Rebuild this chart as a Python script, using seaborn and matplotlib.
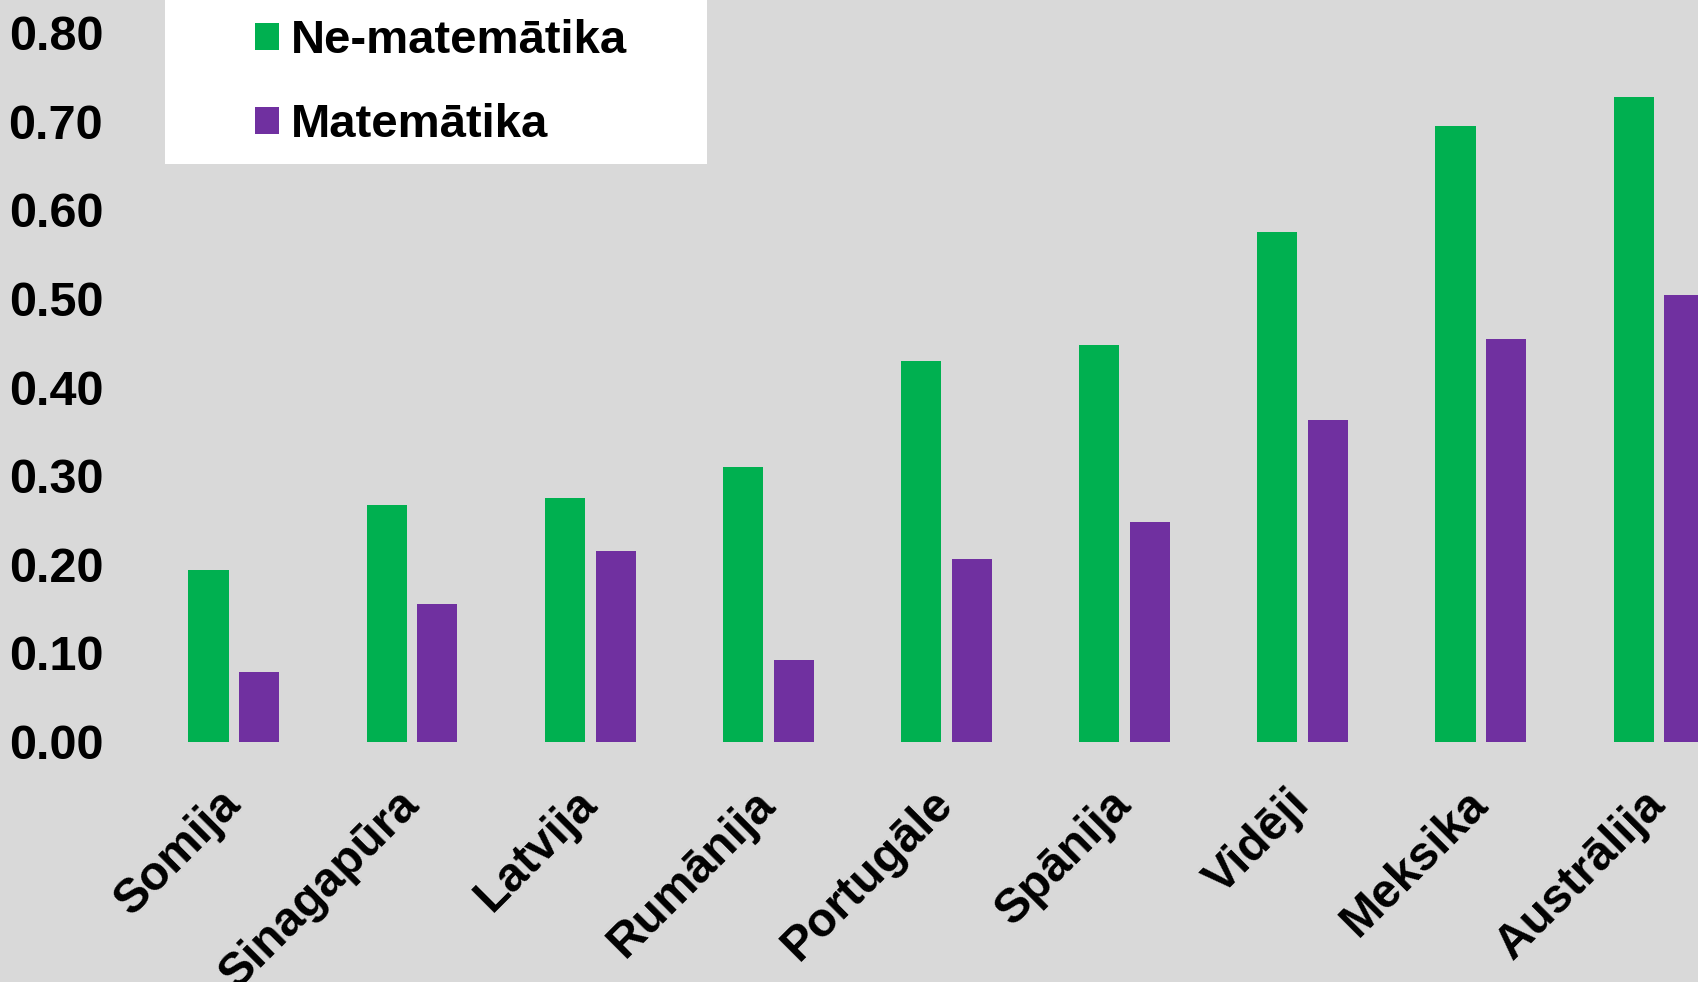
import pandas as pd
import numpy as np
import matplotlib.pyplot as plt
import seaborn as sns
from matplotlib.patches import Patch, Rectangle

countries = ['Somija', 'Sinagapūra', 'Latvija', 'Rumānija', 'Portugāle',
             'Spānija', 'Vidēji', 'Meksika', 'Austrālija']
ne_matematika = [0.194, 0.267, 0.275, 0.310, 0.429, 0.447, 0.575, 0.694, 0.727]
matematika = [0.079, 0.155, 0.215, 0.092, 0.206, 0.248, 0.363, 0.454, 0.504]
series_names = ['Ne-matemātika', 'Matemātika']
colors = ['#00B050', '#7030A0']
y_ticks = [0.0, 0.1, 0.2, 0.3, 0.4, 0.5, 0.6, 0.7, 0.8]

df = pd.DataFrame({
    'valsts': countries * 2,
    'grupa': [series_names[0]] * len(countries) + [series_names[1]] * len(countries),
    'vertiba': ne_matematika + matematika,
})

sns.set_style('white')
plt.rcParams['font.family'] = ['Liberation Sans', 'DejaVu Sans']
plt.rcParams['font.weight'] = 'bold'
plt.rcParams['text.color'] = 'black'
plt.rcParams['xtick.color'] = 'black'
plt.rcParams['ytick.color'] = 'black'

bg = '#D9D9D9'
fig = plt.figure(figsize=(16.98, 9.82), dpi=100, facecolor=bg)
ax = fig.add_axes([0.1, 0.2448, 0.9, 0.7552])
ax.set_facecolor(bg)

sns.barplot(data=df, x='valsts', y='vertiba', hue='grupa', order=countries,
            hue_order=series_names, palette=colors, saturation=1,
            width=0.57, gap=0.21, linewidth=0, legend=False, ax=ax)

ax.set_xlim(-0.36, 8.219)
ax.set_ylim(0, 0.8366)
ax.set_yticks(y_ticks)
ax.set_yticklabels([f'{v:.2f}' for v in y_ticks], fontsize=35, fontweight='bold',
                   color='black')
ax.tick_params(axis='y', length=0, pad=48)
ax.tick_params(axis='x', length=0, pad=40)
for lab in ax.get_xticklabels():
    lab.set_rotation(45)
    lab.set_ha('right')
    lab.set_va('center')
    lab.set_rotation_mode('anchor')
    lab.set_fontsize(34.5)
    lab.set_fontweight('bold')
    lab.set_color('black')
ax.set_xlabel('')
ax.set_ylabel('')
sns.despine(ax=ax, left=True, bottom=True)

# white legend box at the top
fig.patches.append(Rectangle((165 / 1698, 1 - 164 / 982), (707 - 165) / 1698, 164 / 982,
                             transform=fig.transFigure, facecolor='white',
                             edgecolor='none', zorder=5))
handles = [Patch(facecolor=c, edgecolor='none') for c in colors]
leg = fig.legend(handles, series_names, loc='upper left',
                 bbox_to_anchor=(222 / 1698, 1 + 14 / 982), frameon=False,
                 prop={'weight': 'bold', 'size': 34},
                 handlelength=0.5, handleheight=0.5, handletextpad=0.25,
                 labelspacing=0.85, borderpad=0.2)
for t in leg.get_texts():
    t.set_color('black')
leg.set_zorder(6)

fig.savefig('out.png', dpi=100, facecolor=bg)
